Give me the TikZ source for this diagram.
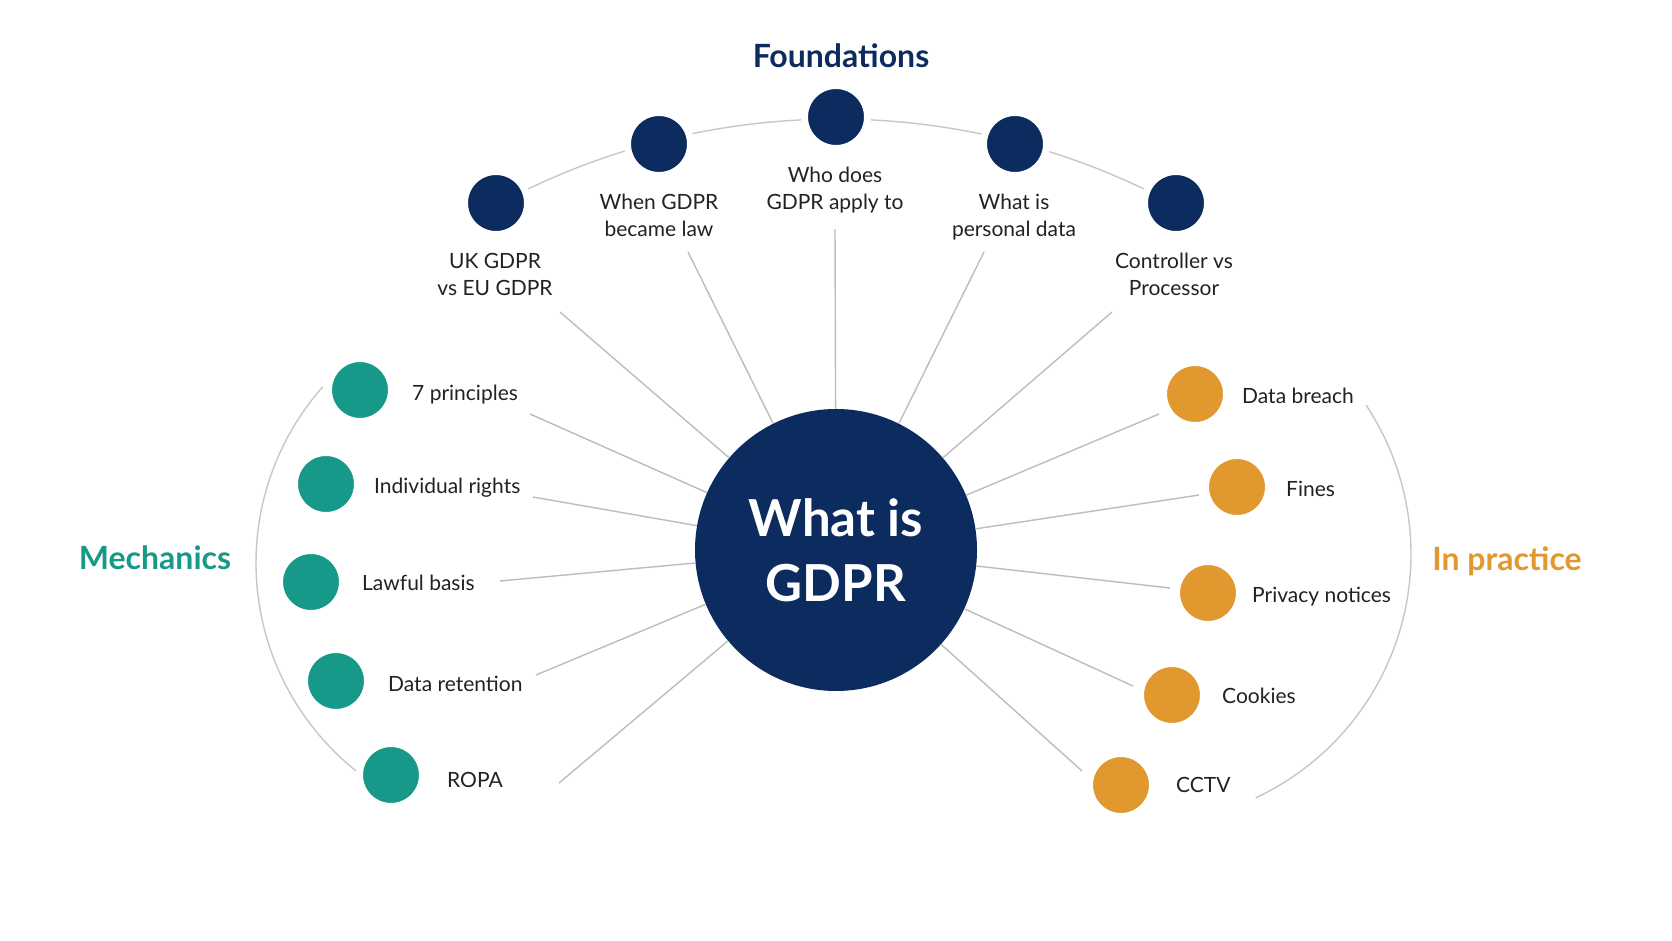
\documentclass[tikz,border=0pt]{standalone}
\usepackage{fontspec}
\setmainfont{Lato}
\definecolor{gdprnavy}{HTML}{0C2B5E}
\definecolor{gdprteal}{HTML}{17998A}
\definecolor{gdprgold}{HTML}{E0982F}
\definecolor{labelink}{HTML}{222222}
\definecolor{spokegray}{HTML}{BDBDBD}
\begin{document}
\begin{tikzpicture}[x=1pt, y=-1pt,
    topicdot/.style={circle, fill=#1, draw=white, line width=7pt, inner sep=0pt, minimum size=63pt},
    topic/.style={text=labelink, font=\fontsize{21}{27}\selectfont, inner sep=0pt},
    group/.style={text=#1, font=\fontsize{32}{38}\selectfont\bfseries, inner sep=0pt, anchor=base},
    spoke/.style={draw=spokegray, line width=1.4pt},
    ring/.style={draw=spokegray!85, line width=1.4pt}]
  \useasboundingbox[fill=white] (0,0) rectangle (1672,941);

  \draw[ring] (836,832) ++(-118.4:713) arc[start angle=-118.4, end angle=-61.6, radius=713];
  \draw[ring] (522,563) ++(-138.5:266) arc[start angle=-138.5, end angle=-231.7, radius=266];
  \draw[ring] (1142,554) ++(-33.6:269) arc[start angle=-33.6, end angle=65, radius=269];

  \node[circle, fill=gdprnavy, minimum size=282pt, inner sep=0pt, text=white, align=center,
        font=\fontsize{51}{65}\selectfont\bfseries] (hub) at (836,550) {What is\\GDPR};

  \node[group=gdprnavy] (foundations) at (841,68) {Foundations};
  \node[group=gdprteal] (mechanics) at (155,569) {Mechanics};
  \node[group=gdprgold] (practice) at (1507,570) {In practice};

  \node[topicdot=gdprnavy] (fUK) at (496,203) {};
  \node[topicdot=gdprnavy] (fWhen) at (659,144) {};
  \node[topicdot=gdprnavy] (fWho) at (836,117) {};
  \node[topicdot=gdprnavy] (fWhat) at (1015,144) {};
  \node[topicdot=gdprnavy] (fCtrl) at (1176,203) {};
  \node[topic, align=center, anchor=base] (lUK) at (495,295) {UK GDPR\\vs EU GDPR};
  \node[topic, align=center, anchor=base] (lWhen) at (659,237) {When GDPR\\became law};
  \node[topic, align=center, anchor=base] (lWho) at (835,210) {Who does\\GDPR apply to};
  \node[topic, align=center, anchor=base] (lWhat) at (1014,237) {What is\\personal data};
  \node[topic, align=center, anchor=base] (lCtrl) at (1174,295) {Controller vs\\Processor};

  \node[topicdot=gdprteal] (m7p) at (360,390) {};
  \node[topicdot=gdprteal] (mIR) at (326,484) {};
  \node[topicdot=gdprteal] (mLB) at (311,582) {};
  \node[topicdot=gdprteal] (mDR) at (336,681) {};
  \node[topicdot=gdprteal] (mROPA) at (391,775) {};
  \node[topic, anchor=base west] (l7p) at (412,400) {7 principles};
  \node[topic, anchor=base west] (lIR) at (374,493) {Individual rights};
  \node[topic, anchor=base west] (lLB) at (362,590) {Lawful basis};
  \node[topic, anchor=base west] (lDR) at (388,691) {Data retention};
  \node[topic, anchor=base west] (lROPA) at (447,787) {ROPA};

  \node[topicdot=gdprgold] (pDB) at (1195,394) {};
  \node[topicdot=gdprgold] (pFines) at (1237,487) {};
  \node[topicdot=gdprgold] (pPN) at (1208,593) {};
  \node[topicdot=gdprgold] (pCook) at (1172,695) {};
  \node[topicdot=gdprgold] (pCCTV) at (1121,785) {};
  \node[topic, anchor=base west] (lDB) at (1242,403) {Data breach};
  \node[topic, anchor=base west] (lFines) at (1286,496) {Fines};
  \node[topic, anchor=base west] (lPN) at (1252,602) {Privacy notices};
  \node[topic, anchor=base west] (lCook) at (1222,703) {Cookies};
  \node[topic, anchor=base west] (lCCTV) at (1176,792) {CCTV};

  \coordinate (sUK) at (560,312);
  \coordinate (sWhen) at (688,252);
  \coordinate (sWho) at (835,229);
  \coordinate (sWhat) at (984,252);
  \coordinate (sCtrl) at (1112,312);
  \coordinate (s7p) at (530,414);
  \coordinate (sIR) at (533,497);
  \coordinate (sLB) at (500,581);
  \coordinate (sDR) at (536,675);
  \coordinate (sROPA) at (559,783);
  \coordinate (sDB) at (1159,414);
  \coordinate (sFines) at (1199,495);
  \coordinate (sPN) at (1170,588);
  \coordinate (sCook) at (1133,686);
  \coordinate (sCCTV) at (1082,771);

  \draw[spoke] (sUK) -- (hub);
  \draw[spoke] (sWhen) -- (hub);
  \draw[spoke] (sWho) -- (hub);
  \draw[spoke] (sWhat) -- (hub);
  \draw[spoke] (sCtrl) -- (hub);
  \draw[spoke] (s7p) -- (hub);
  \draw[spoke] (sIR) -- (hub);
  \draw[spoke] (sLB) -- (hub);
  \draw[spoke] (sDR) -- (hub);
  \draw[spoke] (sROPA) -- (hub);
  \draw[spoke] (sDB) -- (hub);
  \draw[spoke] (sFines) -- (hub);
  \draw[spoke] (sPN) -- (hub);
  \draw[spoke] (sCook) -- (hub);
  \draw[spoke] (sCCTV) -- (hub);
\end{tikzpicture}
\end{document}
